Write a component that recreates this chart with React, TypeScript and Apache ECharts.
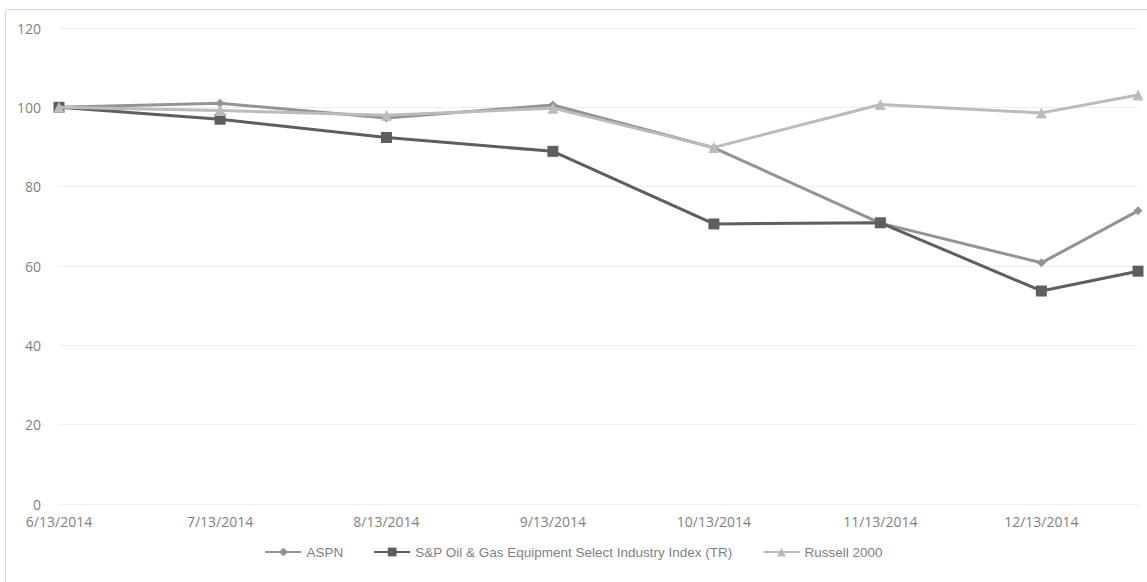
import React, { useEffect, useRef } from "react";
import * as echarts from "echarts";

const dates: string[] = ["2014-06-13", "2014-07-13", "2014-08-13", "2014-09-13", "2014-10-13", "2014-11-13", "2014-12-13", "2014-12-31"];
const tickDates: string[] = ["2014-06-13", "2014-07-13", "2014-08-13", "2014-09-13", "2014-10-13", "2014-11-13", "2014-12-13"];
const aspn: number[] = [100, 101, 97.3, 100.6, 89.8, 70.8, 60.8, 73.9];
const spOilGas: number[] = [100, 97, 92.4, 88.9, 70.6, 70.9, 53.7, 58.7];
const russell: number[] = [100, 99.2, 98, 99.8, 89.9, 100.7, 98.6, 103.1];
const seriesNames: string[] = ["ASPN", "S&P Oil & Gas Equipment Select Industry Index (TR)", "Russell 2000"];

const DAY = 86400000;
const toUtc = (s: string) => {
  const [y, m, d] = s.split("-").map(Number);
  return Date.UTC(y, m - 1, d);
};
const start = toUtc(dates[0]);
const toDay = (s: string) => Math.round((toUtc(s) - start) / DAY);
const dayLabel = (n: number) => {
  const d = new Date(start + Math.round(n) * DAY);
  return `${d.getUTCMonth() + 1}/${d.getUTCDate()}/${d.getUTCFullYear()}`;
};

export default function App() {
  const ref = useRef<HTMLDivElement>(null);
  useEffect(() => {
    if (!ref.current) return;
    const chart = echarts.init(ref.current, undefined, { renderer: "svg" });
    const xs = dates.map(toDay);
    const mk = (vals: number[]) => vals.map((v, i) => [xs[i], v]);
    const axisFont = { fontFamily: "Open Sans", fontSize: 14, color: "#7f7f7f" };
    chart.setOption({
      animation: false,
      backgroundColor: "#ffffff",
      graphic: [
        {
          type: "rect",
          shape: { x: 5.5, y: 9.5, width: 1150, height: 580 },
          style: { fill: "none", stroke: "#d9d9d9", lineWidth: 1 },
          silent: true,
        },
      ],
      grid: { left: 59, right: 9, top: 28, bottom: 78, containLabel: false },
      legend: {
        bottom: 18,
        left: "center",
        itemWidth: 36,
        itemHeight: 11,
        itemGap: 30,
        textStyle: { fontFamily: "Liberation Sans", fontSize: 13.5, color: "#7f7f7f" },
        data: seriesNames,
      },
      xAxis: {
        type: "value",
        min: 0,
        max: xs[xs.length - 1],
        axisLine: { show: true, lineStyle: { color: "#eeeeee", width: 1 } },
        axisTick: { show: false },
        splitLine: { show: false },
        axisLabel: {
          ...axisFont,
          margin: 10,
          customValues: tickDates.map(toDay),
          hideOverlap: false,
          formatter: (v: number) => dayLabel(v),
        },
      },
      yAxis: {
        type: "value",
        min: 0,
        max: 120,
        interval: 20,
        axisLine: { show: false },
        axisTick: { show: false },
        splitLine: { lineStyle: { color: "#eeeeee", width: 1 } },
        axisLabel: { ...axisFont, margin: 18 },
      },
      series: [
        {
          name: seriesNames[0],
          type: "line",
          data: mk(aspn),
          symbol: "diamond",
          symbolSize: 9,
          lineStyle: { color: "#939393", width: 3 },
          itemStyle: { color: "#939393" },
          z: 2,
        },
        {
          name: seriesNames[1],
          type: "line",
          data: mk(spOilGas),
          symbol: "rect",
          symbolSize: 11,
          lineStyle: { color: "#5e5e5e", width: 3 },
          itemStyle: { color: "#5e5e5e" },
          z: 3,
        },
        {
          name: seriesNames[2],
          type: "line",
          data: mk(russell),
          symbol: "triangle",
          symbolSize: 11,
          lineStyle: { color: "#bbbbbb", width: 3 },
          itemStyle: { color: "#bbbbbb" },
          z: 4,
        },
      ],
    });
    return () => chart.dispose();
  }, []);
  return (
    <div
      ref={ref}
      style={{ position: "fixed", left: 0, top: 0, width: 1147, height: 582, background: "#fff" }}
    />
  );
}
